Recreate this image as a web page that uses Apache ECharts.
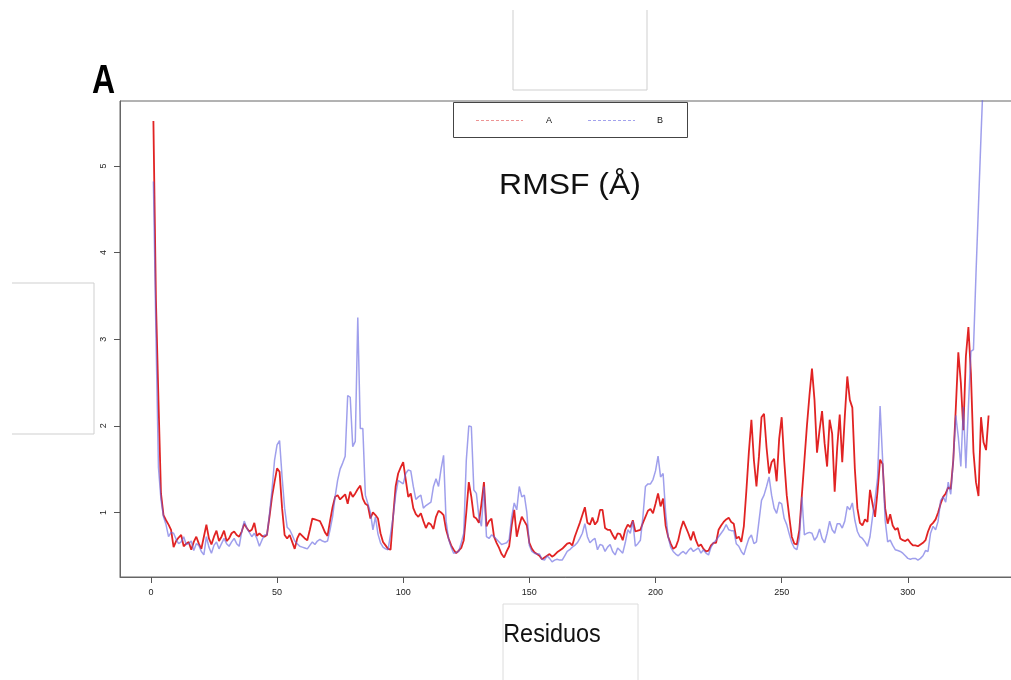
<!DOCTYPE html>
<html>
<head>
<meta charset="utf-8">
<script src="https://cdn.jsdelivr.net/npm/echarts@6/dist/echarts.min.js"></script>
<style>
  html, body { margin: 0; padding: 0; background: #fff; }
  #chart { width: 1011px; height: 680px; }
</style>
</head>
<body>
<div id="chart"></div>
<script>
// RMSF per residue for the two runs (Å)
const seriesNames = ['A', 'B'];
const rmsfA = [
  5.52,3.45,2.30,1.22,0.97,0.91,0.86,0.80,0.60,0.67,
  0.71,0.74,0.61,0.64,0.66,0.57,0.66,0.72,0.64,0.58,
  0.72,0.86,0.70,0.63,0.72,0.79,0.67,0.72,0.79,0.67,
  0.70,0.76,0.78,0.74,0.72,0.78,0.87,0.82,0.78,0.80,
  0.88,0.73,0.76,0.73,0.72,0.74,0.95,1.18,1.35,1.51,
  1.47,1.05,0.74,0.70,0.74,0.66,0.58,0.70,0.76,0.73,
  0.70,0.68,0.80,0.93,0.92,0.91,0.90,0.84,0.77,0.73,
  0.90,1.06,1.18,1.20,1.15,1.18,1.21,1.10,1.24,1.18,
  1.22,1.27,1.31,1.16,1.10,1.08,0.93,1.00,0.97,0.93,
  0.76,0.66,0.62,0.58,0.57,0.95,1.30,1.45,1.52,1.58,
  1.38,1.18,1.22,1.05,0.98,0.95,0.99,0.90,0.82,0.88,
  0.86,0.81,0.95,1.02,1.00,0.97,0.80,0.70,0.62,0.57,
  0.53,0.56,0.59,0.68,1.00,1.35,1.18,0.95,0.93,0.88,
  1.10,1.35,0.84,0.90,0.93,0.72,0.65,0.59,0.52,0.48,
  0.55,0.61,0.85,1.03,0.72,0.85,0.95,0.90,0.85,0.65,
  0.58,0.54,0.52,0.50,0.46,0.48,0.50,0.52,0.49,0.51,
  0.54,0.56,0.58,0.61,0.64,0.65,0.62,0.72,0.80,0.88,
  0.97,1.06,0.88,0.86,0.94,0.86,0.90,1.03,1.03,0.82,
  0.80,0.80,0.74,0.69,0.76,0.75,0.68,0.80,0.86,0.83,
  0.91,0.78,0.79,0.80,0.88,0.95,1.02,1.04,0.99,1.10,
  1.22,1.07,1.16,0.85,0.72,0.64,0.58,0.60,0.68,0.81,
  0.90,0.83,0.76,0.68,0.78,0.68,0.61,0.63,0.58,0.55,
  0.56,0.62,0.65,0.65,0.80,0.85,0.89,0.92,0.94,0.89,
  0.87,0.70,0.72,0.66,0.84,1.25,1.70,2.07,1.60,1.30,
  1.65,2.10,2.14,1.75,1.45,1.58,1.62,1.36,1.85,2.10,
  1.60,1.20,0.95,0.72,0.64,0.63,0.80,1.20,1.60,2.00,
  2.35,2.66,2.30,1.69,1.95,2.17,1.80,1.53,2.07,1.91,
  1.24,1.75,2.13,1.58,2.10,2.57,2.30,2.21,1.50,1.05,
  0.88,0.85,0.92,0.89,1.26,1.10,0.95,1.25,1.61,1.56,
  1.05,0.87,0.98,0.85,0.80,0.82,0.70,0.68,0.67,0.69,
  0.65,0.62,0.62,0.61,0.63,0.65,0.68,0.78,0.85,0.88,
  0.92,1.00,1.10,1.18,1.22,1.29,1.27,1.60,2.20,2.85,
  2.50,1.95,2.80,3.14,2.60,1.70,1.35,1.19,2.10,1.81,
  1.72,2.12
];
const rmsfB = [
  4.82,3.07,1.52,1.15,0.95,0.86,0.72,0.77,0.76,0.69,
  0.64,0.66,0.72,0.63,0.64,0.67,0.56,0.64,0.62,0.55,
  0.51,0.72,0.60,0.53,0.62,0.66,0.58,0.64,0.70,0.64,
  0.61,0.66,0.70,0.64,0.61,0.78,0.90,0.82,0.77,0.72,
  0.76,0.70,0.61,0.68,0.74,0.74,0.98,1.26,1.60,1.78,
  1.83,1.41,1.05,0.83,0.80,0.74,0.67,0.64,0.61,0.60,
  0.59,0.58,0.62,0.66,0.63,0.67,0.69,0.67,0.66,0.67,
  0.80,0.95,1.18,1.37,1.50,1.57,1.65,2.35,2.33,1.76,
  1.82,3.25,1.97,1.97,1.20,1.10,1.00,0.80,0.95,0.75,
  0.65,0.60,0.58,0.57,0.75,0.95,1.20,1.37,1.35,1.33,
  1.45,1.49,1.48,1.30,1.15,1.18,1.20,1.05,1.08,1.10,
  1.12,1.30,1.39,1.30,1.50,1.66,0.90,0.69,0.60,0.53,
  0.54,0.55,0.65,0.76,1.60,2.00,1.99,1.26,1.22,0.95,
  0.84,1.30,0.72,0.70,0.74,0.72,0.69,0.66,0.63,0.64,
  0.65,0.69,0.95,1.11,1.03,1.30,1.18,1.20,1.00,0.62,
  0.55,0.53,0.52,0.52,0.46,0.45,0.50,0.47,0.43,0.45,
  0.46,0.45,0.45,0.50,0.55,0.57,0.60,0.62,0.65,0.70,
  0.76,0.87,0.72,0.65,0.68,0.70,0.57,0.63,0.62,0.55,
  0.60,0.63,0.55,0.51,0.59,0.56,0.53,0.65,0.80,0.76,
  0.90,0.61,0.64,0.68,0.95,1.30,1.33,1.33,1.38,1.48,
  1.65,1.41,1.45,1.00,0.72,0.60,0.55,0.52,0.50,0.53,
  0.55,0.52,0.56,0.59,0.55,0.57,0.59,0.53,0.57,0.53,
  0.51,0.60,0.65,0.68,0.72,0.76,0.80,0.86,0.80,0.79,
  0.79,0.64,0.61,0.55,0.51,0.61,0.70,0.74,0.64,0.66,
  0.90,1.14,1.20,1.30,1.41,1.20,1.05,0.99,1.12,1.10,
  0.93,0.86,0.75,0.65,0.59,0.57,0.70,1.18,0.74,0.76,
  0.77,0.76,0.68,0.72,0.81,0.70,0.65,0.76,0.90,0.80,
  0.76,0.87,0.87,0.82,0.90,1.07,1.03,1.11,0.91,0.78,
  0.72,0.70,0.66,0.61,0.72,0.95,1.15,1.40,2.23,1.61,
  0.91,0.66,0.68,0.62,0.57,0.56,0.55,0.53,0.50,0.47,
  0.46,0.47,0.47,0.45,0.47,0.50,0.56,0.55,0.76,0.84,
  0.80,0.90,1.14,1.18,1.12,1.35,1.21,1.60,2.12,1.87,
  1.53,2.22,1.51,2.22,2.86,2.88,3.75,4.55,5.35,6.10
];
const xTicks = [0, 50, 100, 150, 200, 250, 300];
const yTicks = [1, 2, 3, 4, 5];
const titleText = 'RMSF (Å)';
const xTitle = 'Residuos';
const panelLetter = 'A';

const toPairs = arr => arr.map((v, i) => [i + 1, v]);

const tickFont = "'Liberation Sans Narrow', 'Liberation Sans', Arial, sans-serif";
const lineA = 'rgba(222,16,16,0.92)';
const lineB = 'rgba(100,100,225,0.62)';

const chart = echarts.init(document.getElementById('chart'), null, { renderer: 'canvas' });

chart.setOption({
  animation: false,
  backgroundColor: '#ffffff',
  grid: {
    left: 120, right: -11, top: 101, bottom: 103,
    containLabel: false,
    outerBoundsMode: 'none',
    show: true,
    borderColor: '#666',
    borderWidth: 1,
    backgroundColor: 'transparent'
  },
  xAxis: {
    type: 'value',
    min: -12.24,
    max: 345.24,
    splitLine: { show: false },
    axisLine: { show: true, onZero: false, lineStyle: { color: '#666', width: 1 } },
    axisTick: { show: true, inside: false, length: 6, customValues: xTicks, lineStyle: { color: '#555' } },
    axisLabel: { show: true, customValues: xTicks, margin: 11, fontSize: 9, color: '#222', fontFamily: tickFont }
  },
  yAxis: {
    type: 'value',
    min: 0.255,
    max: 5.75,
    splitLine: { show: false },
    axisLine: { show: true, onZero: false, lineStyle: { color: '#666', width: 1 } },
    axisTick: { show: true, inside: false, length: 6, customValues: yTicks, lineStyle: { color: '#555' } },
    axisLabel: { show: true, customValues: yTicks, rotate: 90, margin: 12, fontSize: 9, color: '#222', fontFamily: tickFont }
  },
  series: [
    {
      name: seriesNames[0],
      type: 'line',
      data: toPairs(rmsfA),
      showSymbol: false,
      symbol: 'none',
      clip: true,
      lineStyle: { color: lineA, width: 1.8 },
      z: 2
    },
    {
      name: seriesNames[1],
      type: 'line',
      data: toPairs(rmsfB),
      showSymbol: false,
      symbol: 'none',
      clip: true,
      lineStyle: { color: lineB, width: 1.5 },
      z: 3
    }
  ],
  graphic: [
    // faint frame lines around the figure pieces
    { type: 'polyline', silent: true, shape: { points: [[513, 10], [513, 90], [647, 90], [647, 10]] },
      style: { fill: null, stroke: '#cfcfcf', lineWidth: 1 } },
    { type: 'polyline', silent: true, shape: { points: [[12, 283], [94, 283], [94, 434], [12, 434]] },
      style: { fill: null, stroke: '#cfcfcf', lineWidth: 1 } },
    { type: 'polyline', silent: true, shape: { points: [[503, 680], [503, 604], [638, 604], [638, 680]] },
      style: { fill: null, stroke: '#dcdcdc', lineWidth: 1 } },
    // panel letter
    { type: 'text', left: 92, top: 62, silent: true,
      style: { text: panelLetter, font: "bold 40px 'Liberation Sans', Arial, sans-serif", fill: '#000' },
      scaleX: 0.8 },
    // title inside the plot
    { type: 'text', x: 570, y: 186, silent: true, scaleX: 1.1, originX: 0, originY: 0,
      style: { text: titleText, font: "29px 'Liberation Sans', Arial, sans-serif", fill: '#111',
               textAlign: 'center', textVerticalAlign: 'middle' } },
    // x axis title
    { type: 'text', x: 552, y: 635, silent: true, scaleX: 0.9,
      style: { text: xTitle, font: "26px 'Liberation Sans', Arial, sans-serif", fill: '#111',
               textAlign: 'center', textVerticalAlign: 'middle' } },
    // legend box
    { type: 'rect', silent: true, shape: { x: 453.5, y: 102.5, width: 234, height: 35 },
      style: { fill: '#fff', stroke: '#444', lineWidth: 1 }, z: 10 },
    { type: 'line', silent: true, shape: { x1: 476, y1: 120.5, x2: 523, y2: 120.5 },
      style: { stroke: 'rgba(222,60,60,0.55)', lineWidth: 1, lineDash: [3, 2] }, z: 11 },
    { type: 'text', silent: true, x: 549, y: 121, z: 11,
      style: { text: seriesNames[0], font: "9px 'Liberation Sans', Arial, sans-serif", fill: '#111',
               textAlign: 'center', textVerticalAlign: 'middle' } },
    { type: 'line', silent: true, shape: { x1: 588, y1: 120.5, x2: 635, y2: 120.5 },
      style: { stroke: 'rgba(100,100,225,0.6)', lineWidth: 1, lineDash: [3, 2] }, z: 11 },
    { type: 'text', silent: true, x: 660, y: 121, z: 11,
      style: { text: seriesNames[1], font: "9px 'Liberation Sans', Arial, sans-serif", fill: '#111',
               textAlign: 'center', textVerticalAlign: 'middle' } }
  ]
});
</script>
</body>
</html>
